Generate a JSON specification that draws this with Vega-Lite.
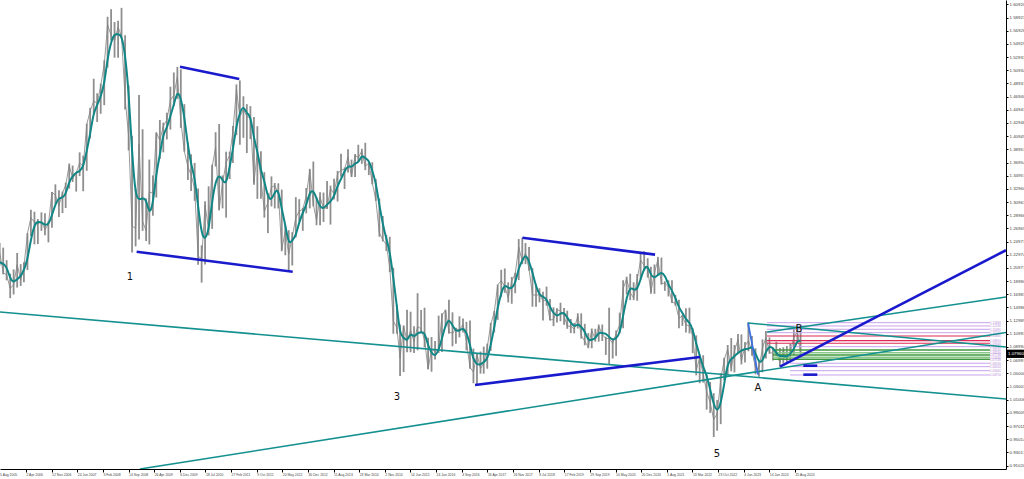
{
"$schema": "https://vega.github.io/schema/vega-lite/v6.json",
"width": 1006, "height": 469, "padding": 0,
"background": "white",
"config": {"view": {"stroke": null},
"axis": {"labelOverlap": false, "labelFlush": false, "labelBound": false, "grid": false, "title": null, "domainColor": "#000", "tickColor": "#000", "labelColor": "#444", "labelFont": "Liberation Sans"},
"axisX": {"labelAlign": "left", "labelBaseline": "top", "labelFontSize": 3.4, "labelPadding": 0, "tickSize": 3},
"axisY": {"labelFontSize": 4.4, "labelPadding": 1, "tickSize": 2}},
"datasets": {
"px": [
{"d":"2005-08-15","h":1.2475,"l":1.2135,"c":1.2335,"m":1.2185},
{"d":"2005-09-15","h":1.2405,"l":1.2000,"c":1.2025,"m":1.2162},
{"d":"2005-10-15","h":1.2215,"l":1.1910,"c":1.1990,"m":1.2117},
{"d":"2005-11-15","h":1.2010,"l":1.1640,"c":1.1790,"m":1.1935},
{"d":"2005-12-15","h":1.2075,"l":1.1695,"c":1.1840,"m":1.1873},
{"d":"2006-01-15","h":1.2325,"l":1.1800,"c":1.2150,"m":1.1927},
{"d":"2006-02-15","h":1.2155,"l":1.1825,"c":1.1920,"m":1.1970},
{"d":"2006-03-15","h":1.2185,"l":1.1880,"c":1.2115,"m":1.2062},
{"d":"2006-04-15","h":1.2625,"l":1.2065,"c":1.2620,"m":1.2218},
{"d":"2006-05-15","h":1.2980,"l":1.2580,"c":1.2860,"m":1.2532},
{"d":"2006-06-15","h":1.2950,"l":1.2455,"c":1.2790,"m":1.2757},
{"d":"2006-07-15","h":1.2840,"l":1.2460,"c":1.2765,"m":1.2805},
{"d":"2006-08-15","h":1.2940,"l":1.2660,"c":1.2805,"m":1.2787},
{"d":"2006-09-15","h":1.2925,"l":1.2595,"c":1.2680,"m":1.2750},
{"d":"2006-10-15","h":1.2810,"l":1.2485,"c":1.2760,"m":1.2748},
{"d":"2006-11-15","h":1.3250,"l":1.2705,"c":1.3245,"m":1.2895},
{"d":"2006-12-15","h":1.3365,"l":1.3070,"c":1.3200,"m":1.3068},
{"d":"2007-01-15","h":1.3275,"l":1.2870,"c":1.3040,"m":1.3162},
{"d":"2007-02-15","h":1.3255,"l":1.2930,"c":1.3235,"m":1.3158},
{"d":"2007-03-15","h":1.3390,"l":1.3005,"c":1.3355,"m":1.3210},
{"d":"2007-04-15","h":1.3680,"l":1.3300,"c":1.3650,"m":1.3413},
{"d":"2007-05-15","h":1.3650,"l":1.3400,"c":1.3455,"m":1.3487},
{"d":"2007-06-15","h":1.3535,"l":1.3255,"c":1.3540,"m":1.3548},
{"d":"2007-07-15","h":1.3850,"l":1.3490,"c":1.3690,"m":1.3562},
{"d":"2007-08-15","h":1.3800,"l":1.3260,"c":1.3640,"m":1.3623},
{"d":"2007-09-15","h":1.4285,"l":1.3570,"c":1.4270,"m":1.3867},
{"d":"2007-10-15","h":1.4525,"l":1.4060,"c":1.4480,"m":1.4130},
{"d":"2007-11-15","h":1.4965,"l":1.4430,"c":1.4630,"m":1.4460},
{"d":"2007-12-15","h":1.4745,"l":1.4310,"c":1.4590,"m":1.4567},
{"d":"2008-01-15","h":1.4890,"l":1.4435,"c":1.4860,"m":1.4693},
{"d":"2008-02-15","h":1.5245,"l":1.4565,"c":1.5185,"m":1.4878},
{"d":"2008-03-15","h":1.5905,"l":1.5135,"c":1.5785,"m":1.5277},
{"d":"2008-04-15","h":1.6020,"l":1.5545,"c":1.5620,"m":1.5530},
{"d":"2008-05-15","h":1.5825,"l":1.5285,"c":1.5545,"m":1.5650},
{"d":"2008-06-15","h":1.5845,"l":1.5285,"c":1.5750,"m":1.5638},
{"d":"2008-07-15","h":1.6040,"l":1.5585,"c":1.5605,"m":1.5633},
{"d":"2008-08-15","h":1.5625,"l":1.4500,"c":1.4680,"m":1.5345},
{"d":"2008-09-15","h":1.4865,"l":1.3880,"c":1.4090,"m":1.4792},
{"d":"2008-10-15","h":1.4100,"l":1.2330,"c":1.2735,"m":1.3835},
{"d":"2008-11-15","h":1.3300,"l":1.2425,"c":1.2695,"m":1.3173},
{"d":"2008-12-15","h":1.4720,"l":1.2530,"c":1.3970,"m":1.3133},
{"d":"2009-01-15","h":1.4200,"l":1.2660,"c":1.2800,"m":1.3155},
{"d":"2009-02-15","h":1.3150,"l":1.2505,"c":1.2665,"m":1.3145},
{"d":"2009-03-15","h":1.3740,"l":1.2455,"c":1.3250,"m":1.2905},
{"d":"2009-04-15","h":1.3500,"l":1.2890,"c":1.3230,"m":1.3048},
{"d":"2009-05-15","h":1.4150,"l":1.3165,"c":1.4150,"m":1.3543},
{"d":"2009-06-15","h":1.4340,"l":1.3750,"c":1.4030,"m":1.3803},
{"d":"2009-07-15","h":1.4300,"l":1.3850,"c":1.4250,"m":1.4143},
{"d":"2009-08-15","h":1.4450,"l":1.4045,"c":1.4340,"m":1.4207},
{"d":"2009-09-15","h":1.4845,"l":1.4195,"c":1.4640,"m":1.4410},
{"d":"2009-10-15","h":1.5060,"l":1.4550,"c":1.4715,"m":1.4565},
{"d":"2009-11-15","h":1.5145,"l":1.4660,"c":1.5000,"m":1.4785},
{"d":"2009-12-15","h":1.5110,"l":1.4220,"c":1.4330,"m":1.4682},
{"d":"2010-01-15","h":1.4580,"l":1.3860,"c":1.3865,"m":1.4398},
{"d":"2010-02-15","h":1.4000,"l":1.3430,"c":1.3630,"m":1.3942},
{"d":"2010-03-15","h":1.3820,"l":1.3265,"c":1.3510,"m":1.3668},
{"d":"2010-04-15","h":1.3690,"l":1.3115,"c":1.3300,"m":1.3480},
{"d":"2010-05-15","h":1.3300,"l":1.2145,"c":1.2280,"m":1.3030},
{"d":"2010-06-15","h":1.2440,"l":1.1875,"c":1.2235,"m":1.2605},
{"d":"2010-07-15","h":1.3110,"l":1.2150,"c":1.3050,"m":1.2522},
{"d":"2010-08-15","h":1.3335,"l":1.2590,"c":1.2680,"m":1.2655},
{"d":"2010-09-15","h":1.3665,"l":1.2690,"c":1.3630,"m":1.3120},
{"d":"2010-10-15","h":1.4155,"l":1.3635,"c":1.3925,"m":1.3412},
{"d":"2010-11-15","h":1.4280,"l":1.2970,"c":1.2985,"m":1.3513},
{"d":"2010-12-15","h":1.3500,"l":1.3000,"c":1.3380,"m":1.3430},
{"d":"2011-01-15","h":1.3860,"l":1.2860,"c":1.3695,"m":1.3353},
{"d":"2011-02-15","h":1.3860,"l":1.3445,"c":1.3805,"m":1.3627},
{"d":"2011-03-15","h":1.4250,"l":1.3690,"c":1.4165,"m":1.3888},
{"d":"2011-04-15","h":1.4880,"l":1.4110,"c":1.4805,"m":1.4258},
{"d":"2011-05-15","h":1.4940,"l":1.3965,"c":1.4390,"m":1.4453},
{"d":"2011-06-15","h":1.4700,"l":1.4070,"c":1.4500,"m":1.4565},
{"d":"2011-07-15","h":1.4580,"l":1.3840,"c":1.4395,"m":1.4428},
{"d":"2011-08-15","h":1.4550,"l":1.4050,"c":1.4370,"m":1.4422},
{"d":"2011-09-15","h":1.4385,"l":1.3360,"c":1.3390,"m":1.4052},
{"d":"2011-10-15","h":1.4245,"l":1.3145,"c":1.3865,"m":1.3875},
{"d":"2011-11-15","h":1.3865,"l":1.3145,"c":1.3445,"m":1.3567},
{"d":"2011-12-15","h":1.3550,"l":1.2860,"c":1.2960,"m":1.3423},
{"d":"2012-01-15","h":1.3235,"l":1.2625,"c":1.3085,"m":1.3163},
{"d":"2012-02-15","h":1.3485,"l":1.3030,"c":1.3320,"m":1.3122},
{"d":"2012-03-15","h":1.3385,"l":1.3000,"c":1.3345,"m":1.3250},
{"d":"2012-04-15","h":1.3380,"l":1.3000,"c":1.3235,"m":1.3300},
{"d":"2012-05-15","h":1.3285,"l":1.2350,"c":1.2370,"m":1.2983},
{"d":"2012-06-15","h":1.2745,"l":1.2290,"c":1.2665,"m":1.2757},
{"d":"2012-07-15","h":1.2670,"l":1.2040,"c":1.2305,"m":1.2447},
{"d":"2012-08-15","h":1.2640,"l":1.2135,"c":1.2575,"m":1.2515},
{"d":"2012-09-15","h":1.3170,"l":1.2560,"c":1.2860,"m":1.2580},
{"d":"2012-10-15","h":1.3140,"l":1.2800,"c":1.2960,"m":1.2798},
{"d":"2012-11-15","h":1.3010,"l":1.2660,"c":1.2985,"m":1.2935},
{"d":"2012-12-15","h":1.3310,"l":1.2925,"c":1.3190,"m":1.3045},
{"d":"2013-01-15","h":1.3600,"l":1.3000,"c":1.3580,"m":1.3252},
{"d":"2013-02-15","h":1.3710,"l":1.3030,"c":1.3060,"m":1.3277},
{"d":"2013-03-15","h":1.3160,"l":1.2745,"c":1.2820,"m":1.3153},
{"d":"2013-04-15","h":1.3245,"l":1.2745,"c":1.3170,"m":1.3017},
{"d":"2013-05-15","h":1.3240,"l":1.2795,"c":1.3000,"m":1.2997},
{"d":"2013-06-15","h":1.3415,"l":1.2990,"c":1.3010,"m":1.3060},
{"d":"2013-07-15","h":1.3345,"l":1.2755,"c":1.3300,"m":1.3103},
{"d":"2013-08-15","h":1.3450,"l":1.3135,"c":1.3220,"m":1.3177},
{"d":"2013-09-15","h":1.3570,"l":1.3105,"c":1.3525,"m":1.3348},
{"d":"2013-10-15","h":1.3830,"l":1.3480,"c":1.3580,"m":1.3442},
{"d":"2013-11-15","h":1.3620,"l":1.3295,"c":1.3590,"m":1.3565},
{"d":"2013-12-15","h":1.3895,"l":1.3545,"c":1.3780,"m":1.3650},
{"d":"2014-01-15","h":1.3740,"l":1.3475,"c":1.3485,"m":1.3618},
{"d":"2014-02-15","h":1.3825,"l":1.3475,"c":1.3805,"m":1.3690},
{"d":"2014-03-15","h":1.3965,"l":1.3705,"c":1.3770,"m":1.3687},
{"d":"2014-04-15","h":1.3905,"l":1.3675,"c":1.3870,"m":1.3815},
{"d":"2014-05-15","h":1.3995,"l":1.3580,"c":1.3635,"m":1.3758},
{"d":"2014-06-15","h":1.3700,"l":1.3505,"c":1.3690,"m":1.3732},
{"d":"2014-07-15","h":1.3700,"l":1.3365,"c":1.3390,"m":1.3572},
{"d":"2014-08-15","h":1.3445,"l":1.3115,"c":1.3130,"m":1.3403},
{"d":"2014-09-15","h":1.3150,"l":1.2570,"c":1.2630,"m":1.3050},
{"d":"2014-10-15","h":1.2885,"l":1.2500,"c":1.2525,"m":1.2762},
{"d":"2014-11-15","h":1.2600,"l":1.2355,"c":1.2450,"m":1.2535},
{"d":"2014-12-15","h":1.2570,"l":1.2035,"c":1.2100,"m":1.2358},
{"d":"2015-01-15","h":1.2100,"l":1.1100,"c":1.1290,"m":1.1947},
{"d":"2015-02-15","h":1.1535,"l":1.1100,"c":1.1195,"m":1.1528},
{"d":"2015-03-15","h":1.1240,"l":1.0460,"c":1.0730,"m":1.1072},
{"d":"2015-04-15","h":1.1225,"l":1.0520,"c":1.1220,"m":1.1048},
{"d":"2015-05-15","h":1.1465,"l":1.0820,"c":1.0985,"m":1.0978},
{"d":"2015-06-15","h":1.1435,"l":1.0820,"c":1.1150,"m":1.1118},
{"d":"2015-07-15","h":1.1215,"l":1.0810,"c":1.0985,"m":1.1040},
{"d":"2015-08-15","h":1.1715,"l":1.0850,"c":1.1210,"m":1.1115},
{"d":"2015-09-15","h":1.1460,"l":1.1105,"c":1.1175,"m":1.1123},
{"d":"2015-10-15","h":1.1495,"l":1.0895,"c":1.1005,"m":1.1130},
{"d":"2015-11-15","h":1.1040,"l":1.0560,"c":1.0565,"m":1.0915},
{"d":"2015-12-15","h":1.1050,"l":1.0525,"c":1.0860,"m":1.0810},
{"d":"2016-01-15","h":1.0990,"l":1.0710,"c":1.0830,"m":1.0752},
{"d":"2016-02-15","h":1.1375,"l":1.0810,"c":1.0870,"m":1.0853},
{"d":"2016-03-15","h":1.1410,"l":1.0825,"c":1.1380,"m":1.1027},
{"d":"2016-04-15","h":1.1465,"l":1.1215,"c":1.1455,"m":1.1235},
{"d":"2016-05-15","h":1.1615,"l":1.1100,"c":1.1130,"m":1.1322},
{"d":"2016-06-15","h":1.1425,"l":1.0910,"c":1.1105,"m":1.1230},
{"d":"2016-07-15","h":1.1190,"l":1.0950,"c":1.1175,"m":1.1137},
{"d":"2016-08-15","h":1.1365,"l":1.1045,"c":1.1160,"m":1.1147},
{"d":"2016-09-15","h":1.1330,"l":1.1120,"c":1.1240,"m":1.1192},
{"d":"2016-10-15","h":1.1280,"l":1.0850,"c":1.0980,"m":1.1127},
{"d":"2016-11-15","h":1.1300,"l":1.0570,"c":1.0590,"m":1.0937},
{"d":"2016-12-15","h":1.0875,"l":1.0350,"c":1.0520,"m":1.0697},
{"d":"2017-01-15","h":1.0800,"l":1.0340,"c":1.0795,"m":1.0635},
{"d":"2017-02-15","h":1.0830,"l":1.0495,"c":1.0575,"m":1.0630},
{"d":"2017-03-15","h":1.0905,"l":1.0495,"c":1.0650,"m":1.0673},
{"d":"2017-04-15","h":1.0950,"l":1.0570,"c":1.0895,"m":1.0707},
{"d":"2017-05-15","h":1.1265,"l":1.0840,"c":1.1240,"m":1.0928},
{"d":"2017-06-15","h":1.1445,"l":1.1120,"c":1.1425,"m":1.1187},
{"d":"2017-07-15","h":1.1845,"l":1.1310,"c":1.1840,"m":1.1502},
{"d":"2017-08-15","h":1.2070,"l":1.1660,"c":1.1905,"m":1.1723},
{"d":"2017-09-15","h":1.2090,"l":1.1720,"c":1.1815,"m":1.1853},
{"d":"2017-10-15","h":1.1880,"l":1.1575,"c":1.1645,"m":1.1788},
{"d":"2017-11-15","h":1.1960,"l":1.1555,"c":1.1905,"m":1.1788},
{"d":"2017-12-15","h":1.2025,"l":1.1715,"c":1.2005,"m":1.1852},
{"d":"2018-01-15","h":1.2535,"l":1.1915,"c":1.2415,"m":1.2108},
{"d":"2018-02-15","h":1.2555,"l":1.2155,"c":1.2195,"m":1.2205},
{"d":"2018-03-15","h":1.2475,"l":1.2155,"c":1.2325,"m":1.2312},
{"d":"2018-04-15","h":1.2415,"l":1.2055,"c":1.2080,"m":1.2200},
{"d":"2018-05-15","h":1.2095,"l":1.1510,"c":1.1690,"m":1.2032},
{"d":"2018-06-15","h":1.1850,"l":1.1510,"c":1.1685,"m":1.1818},
{"d":"2018-07-15","h":1.1790,"l":1.1575,"c":1.1690,"m":1.1688},
{"d":"2018-08-15","h":1.1735,"l":1.1300,"c":1.1600,"m":1.1658},
{"d":"2018-09-15","h":1.1815,"l":1.1525,"c":1.1605,"m":1.1632},
{"d":"2018-10-15","h":1.1625,"l":1.1300,"c":1.1310,"m":1.1505},
{"d":"2018-11-15","h":1.1500,"l":1.1215,"c":1.1315,"m":1.1410},
{"d":"2018-12-15","h":1.1485,"l":1.1270,"c":1.1465,"m":1.1363},
{"d":"2019-01-15","h":1.1570,"l":1.1290,"c":1.1445,"m":1.1408},
{"d":"2019-02-15","h":1.1490,"l":1.1235,"c":1.1370,"m":1.1427},
{"d":"2019-03-15","h":1.1450,"l":1.1175,"c":1.1215,"m":1.1343},
{"d":"2019-04-15","h":1.1325,"l":1.1110,"c":1.1215,"m":1.1267},
{"d":"2019-05-15","h":1.1265,"l":1.1105,"c":1.1170,"m":1.1200},
{"d":"2019-06-15","h":1.1410,"l":1.1180,"c":1.1370,"m":1.1252},
{"d":"2019-07-15","h":1.1410,"l":1.1025,"c":1.1075,"m":1.1205},
{"d":"2019-08-15","h":1.1250,"l":1.0925,"c":1.0985,"m":1.1143},
{"d":"2019-09-15","h":1.1110,"l":1.0880,"c":1.0900,"m":1.0987},
{"d":"2019-10-15","h":1.1180,"l":1.0880,"c":1.1150,"m":1.1012},
{"d":"2019-11-15","h":1.1175,"l":1.0980,"c":1.1015,"m":1.1022},
{"d":"2019-12-15","h":1.1240,"l":1.0980,"c":1.1215,"m":1.1127},
{"d":"2020-01-15","h":1.1240,"l":1.0990,"c":1.1090,"m":1.1107},
{"d":"2020-02-15","h":1.1055,"l":1.0780,"c":1.1025,"m":1.1110},
{"d":"2020-03-15","h":1.1495,"l":1.0635,"c":1.1030,"m":1.1048},
{"d":"2020-04-15","h":1.1030,"l":1.0725,"c":1.0955,"m":1.1003},
{"d":"2020-05-15","h":1.1150,"l":1.0765,"c":1.1100,"m":1.1028},
{"d":"2020-06-15","h":1.1420,"l":1.1105,"c":1.1235,"m":1.1097},
{"d":"2020-07-15","h":1.1910,"l":1.1185,"c":1.1780,"m":1.1372},
{"d":"2020-08-15","h":1.1965,"l":1.1695,"c":1.1935,"m":1.1650},
{"d":"2020-09-15","h":1.2010,"l":1.1610,"c":1.1720,"m":1.1812},
{"d":"2020-10-15","h":1.1880,"l":1.1610,"c":1.1645,"m":1.1767},
{"d":"2020-11-15","h":1.2005,"l":1.1600,"c":1.1925,"m":1.1763},
{"d":"2020-12-15","h":1.2310,"l":1.1925,"c":1.2215,"m":1.1928},
{"d":"2021-01-15","h":1.2350,"l":1.2055,"c":1.2135,"m":1.2092},
{"d":"2021-02-15","h":1.2245,"l":1.1950,"c":1.2075,"m":1.2142},
{"d":"2021-03-15","h":1.2115,"l":1.1705,"c":1.1730,"m":1.1980},
{"d":"2021-04-15","h":1.2150,"l":1.1705,"c":1.2020,"m":1.1942},
{"d":"2021-05-15","h":1.2265,"l":1.1985,"c":1.2225,"m":1.1992},
{"d":"2021-06-15","h":1.2255,"l":1.1845,"c":1.1860,"m":1.2035},
{"d":"2021-07-15","h":1.1895,"l":1.1750,"c":1.1870,"m":1.1985},
{"d":"2021-08-15","h":1.1910,"l":1.1665,"c":1.1805,"m":1.1845},
{"d":"2021-09-15","h":1.1910,"l":1.1565,"c":1.1580,"m":1.1752},
{"d":"2021-10-15","h":1.1690,"l":1.1525,"c":1.1560,"m":1.1648},
{"d":"2021-11-15","h":1.1615,"l":1.1185,"c":1.1335,"m":1.1492},
{"d":"2021-12-15","h":1.1385,"l":1.1220,"c":1.1370,"m":1.1422},
{"d":"2022-01-15","h":1.1485,"l":1.1120,"c":1.1235,"m":1.1313},
{"d":"2022-02-15","h":1.1495,"l":1.1105,"c":1.1220,"m":1.1275},
{"d":"2022-03-15","h":1.1185,"l":1.0805,"c":1.1065,"m":1.1173},
{"d":"2022-04-15","h":1.1075,"l":1.0470,"c":1.0545,"m":1.0943},
{"d":"2022-05-15","h":1.0785,"l":1.0350,"c":1.0730,"m":1.0780},
{"d":"2022-06-15","h":1.0775,"l":1.0360,"c":1.0485,"m":1.0587},
{"d":"2022-07-15","h":1.0485,"l":0.9950,"c":1.0225,"m":1.0480},
{"d":"2022-08-15","h":1.0370,"l":0.9900,"c":1.0055,"m":1.0255},
{"d":"2022-09-15","h":1.0200,"l":0.9535,"c":0.9800,"m":1.0027},
{"d":"2022-10-15","h":1.0095,"l":0.9630,"c":0.9885,"m":0.9913},
{"d":"2022-11-15","h":1.0500,"l":0.9730,"c":1.0405,"m":1.0030},
{"d":"2022-12-15","h":1.0735,"l":1.0395,"c":1.0705,"m":1.0332},
{"d":"2023-01-15","h":1.0930,"l":1.0480,"c":1.0865,"m":1.0658},
{"d":"2023-02-15","h":1.1035,"l":1.0530,"c":1.0575,"m":1.0715},
{"d":"2023-03-15","h":1.0930,"l":1.0515,"c":1.0840,"m":1.0760},
{"d":"2023-04-15","h":1.1095,"l":1.0790,"c":1.1015,"m":1.0810},
{"d":"2023-05-15","h":1.1090,"l":1.0635,"c":1.0690,"m":1.0848},
{"d":"2023-06-15","h":1.0975,"l":1.0665,"c":1.0910,"m":1.0872},
{"d":"2023-07-15","h":1.1275,"l":1.0835,"c":1.0995,"m":1.0865},
{"d":"2023-08-15","h":1.1065,"l":1.0765,"c":1.0845,"m":1.0917},
{"d":"2023-09-15","h":1.0880,"l":1.0485,"c":1.0575,"m":1.0805},
{"d":"2023-10-15","h":1.0695,"l":1.0450,"c":1.0575,"m":1.0665},
{"d":"2023-11-15","h":1.1015,"l":1.0515,"c":1.0885,"m":1.0678},
{"d":"2023-12-15","h":1.1140,"l":1.0725,"c":1.1040,"m":1.0833},
{"d":"2024-01-15","h":1.1045,"l":1.0795,"c":1.0815,"m":1.0913},
{"d":"2024-02-15","h":1.0890,"l":1.0695,"c":1.0805,"m":1.0887},
{"d":"2024-03-15","h":1.0980,"l":1.0765,"c":1.0790,"m":1.0803},
{"d":"2024-04-15","h":1.0885,"l":1.0600,"c":1.0665,"m":1.0753},
{"d":"2024-05-15","h":1.0895,"l":1.0650,"c":1.0850,"m":1.0768},
{"d":"2024-06-15","h":1.0915,"l":1.0670,"c":1.0715,"m":1.0743},
{"d":"2024-07-15","h":1.0950,"l":1.0710,"c":1.0825,"m":1.0797},
{"d":"2024-08-15","h":1.1200,"l":1.0775,"c":1.1045,"m":1.0862},
{"d":"2024-09-15","h":1.1215,"l":1.1000,"c":1.1135,"m":1.1002},
{"d":"2024-10-13","h":1.1145,"l":1.0760,"c":1.0795,"m":1.0992}
],
"lines": [
{"d1":"2009-12-08","p1":1.5148,"d2":"2011-05-10","p2":1.4961,"k":"wave"},
{"d1":"2008-11-24","p1":1.2344,"d2":"2012-08-19","p2":1.2041,"k":"wave"},
{"d1":"2018-02-16","p1":1.2555,"d2":"2021-04-20","p2":1.2300,"k":"wave"},
{"d1":"2016-12-29","p1":1.0324,"d2":"2022-05-18","p2":1.0748,"k":"wave"},
{"d1":"2024-04-16","p1":1.0601,"d2":"2029-09-12","p2":1.2366,"k":"wave"},
{"d1":"2024-11-06","p1":1.0616,"d2":"2025-03-08","p2":1.0616,"k":"wave"},
{"d1":"2024-11-06","p1":1.0480,"d2":"2025-03-08","p2":1.0480,"k":"wave"},
{"d1":"2005-08-18","p1":1.1430,"d2":"2029-09-12","p2":1.0111,"k":"trend"},
{"d1":"2008-12-23","p1":0.9050,"d2":"2029-09-12","p2":1.1119,"k":"trend"},
{"d1":"2023-07-10","p1":1.1263,"d2":"2029-09-12","p2":1.0899,"k":"trend"},
{"d1":"2023-12-25","p1":1.1127,"d2":"2029-09-12","p2":1.1657,"k":"trend"},
{"d1":"2023-07-12","p1":1.1262,"d2":"2023-10-07","p2":1.0480,"k":"leg"}
],
"lv": [
{"d1":"2023-12-25","d2":"2029-04-25","p":1.1268,"g":"fib"},
{"d1":"2023-12-25","d2":"2029-04-25","p":1.1218,"g":"fib"},
{"d1":"2023-12-25","d2":"2029-04-25","p":1.1168,"g":"fib"},
{"d1":"2023-12-25","d2":"2029-04-25","p":1.1116,"g":"fib"},
{"d1":"2024-07-13","d2":"2029-04-25","p":1.0904,"g":"fib"},
{"d1":"2024-07-13","d2":"2029-04-25","p":1.0653,"g":"fib"},
{"d1":"2024-07-13","d2":"2029-04-25","p":1.0601,"g":"fib"},
{"d1":"2024-07-13","d2":"2029-04-25","p":1.0540,"g":"fib"},
{"d1":"2024-07-13","d2":"2029-04-25","p":1.0475,"g":"fib"},
{"d1":"2023-12-25","d2":"2029-04-25","p":1.1066,"g":"res"},
{"d1":"2023-12-25","d2":"2029-04-25","p":1.0995,"g":"res"},
{"d1":"2023-12-25","d2":"2029-04-25","p":1.0956,"g":"res"},
{"d1":"2024-02-15","d2":"2029-04-25","p":1.0854,"g":"sup"},
{"d1":"2024-02-15","d2":"2029-04-25","p":1.0813,"g":"sup2"},
{"d1":"2024-02-15","d2":"2029-04-25","p":1.0778,"g":"sup"},
{"d1":"2024-02-15","d2":"2029-04-25","p":1.0743,"g":"sup2"},
{"d1":"2024-02-15","d2":"2029-04-25","p":1.0713,"g":"sup"}
],
"tx": [
{"d":"2008-09-27","p":1.1960,"t":"1"},
{"d":"2015-02-16","p":1.0142,"t":"3"},
{"d":"2022-10-14","p":0.9278,"t":"5"},
{"d":"2023-10-07","p":1.0278,"t":"A"},
{"d":"2024-09-29","p":1.1171,"t":"B"}
],
"cur": [{"d1":"2029-09-12","d2":"2030-02-16","lo":1.0733,"hi":1.0859,"p":1.0796}],
"ax0": [{"d":"2005-08-18","p":0.8995,"t":"5 Aug 2005"}]
},
"layer": [
{
"data": {"name": "px"},
"mark": {"type": "rule", "clip": true, "color": "#8e8e8e", "strokeWidth": 1.8},
"encoding": {
"x": {"field": "d", "type": "temporal", "title": null,
"scale": {"type": "utc", "domain": [{"year":2005,"month":8,"date":18,"utc":true},{"year":2029,"month":9,"date":12,"utc":true}], "nice": false},
"axis": {"orient": "bottom", "tickCount": 200,
"values": [
{"year":2006,"month":4,"date":2,"utc":true},{"year":2006,"month":11,"date":12,"utc":true},{"year":2007,"month":6,"date":24,"utc":true},{"year":2008,"month":2,"date":3,"utc":true},{"year":2008,"month":9,"date":14,"utc":true},{"year":2009,"month":4,"date":26,"utc":true},{"year":2009,"month":12,"date":6,"utc":true},{"year":2010,"month":7,"date":18,"utc":true},{"year":2011,"month":2,"date":27,"utc":true},{"year":2011,"month":10,"date":9,"utc":true},{"year":2012,"month":5,"date":20,"utc":true},{"year":2012,"month":12,"date":30,"utc":true},{"year":2013,"month":8,"date":11,"utc":true},{"year":2014,"month":3,"date":23,"utc":true},{"year":2014,"month":11,"date":2,"utc":true},{"year":2015,"month":6,"date":14,"utc":true},{"year":2016,"month":1,"date":24,"utc":true},{"year":2016,"month":9,"date":4,"utc":true},{"year":2017,"month":4,"date":16,"utc":true},{"year":2017,"month":11,"date":26,"utc":true},{"year":2018,"month":7,"date":8,"utc":true},{"year":2019,"month":2,"date":17,"utc":true},{"year":2019,"month":9,"date":29,"utc":true},{"year":2020,"month":5,"date":10,"utc":true},{"year":2020,"month":12,"date":20,"utc":true},{"year":2021,"month":8,"date":1,"utc":true},{"year":2022,"month":3,"date":13,"utc":true},{"year":2022,"month":10,"date":23,"utc":true},{"year":2023,"month":6,"date":4,"utc":true},{"year":2024,"month":1,"date":14,"utc":true},{"year":2024,"month":8,"date":25,"utc":true}],
"labelExpr": "utcFormat(datum.value, '%-d %b %Y')", "labelOverlap": false}},
"y": {"field": "l", "type": "quantitative", "title": null,
"scale": {"domain": [0.905, 1.6159], "zero": false, "nice": false},
"axis": {"orient": "right", "tickCount": 200,
"values": [0.9102,0.93017,0.95014,0.97011,0.99009,1.01006,1.03003,1.05,1.06997,1.08994,1.10991,1.12989,1.14986,1.16983,1.1898,1.20977,1.22974,1.24971,1.26969,1.28966,1.30963,1.3296,1.34957,1.36954,1.38951,1.40949,1.42946,1.44943,1.4694,1.48937,1.50934,1.52931,1.54929,1.56926,1.58923,1.6092],
"format": ".5f", "labelOverlap": false}},
"y2": {"field": "h"}
}
},
{
"data": {"name": "px"},
"mark": {"type": "line", "clip": true, "color": "#808080", "strokeWidth": 0.8},
"encoding": {
"x": {"field": "d", "type": "temporal", "title": null},
"y": {"field": "c", "type": "quantitative", "title": null}
}
},
{
"data": {"name": "lv"},
"transform": [{"filter": "datum.g == 'fib'"}],
"mark": {"type": "rule", "clip": true, "color": "#c9a2ec", "strokeWidth": 1},
"encoding": {
"x": {"field": "d1", "type": "temporal", "title": null},
"x2": {"field": "d2"},
"y": {"field": "p", "type": "quantitative", "title": null}
}
},
{
"data": {"name": "lv"},
"transform": [{"filter": "datum.g == 'res'"}],
"mark": {"type": "rule", "clip": true, "color": "#de2a55", "strokeWidth": 1.2},
"encoding": {
"x": {"field": "d1", "type": "temporal", "title": null},
"x2": {"field": "d2"},
"y": {"field": "p", "type": "quantitative", "title": null}
}
},
{
"data": {"name": "lv"},
"transform": [{"filter": "datum.g == 'sup'"}],
"mark": {"type": "rule", "clip": true, "color": "#3f9a3f", "strokeWidth": 1.4},
"encoding": {
"x": {"field": "d1", "type": "temporal", "title": null},
"x2": {"field": "d2"},
"y": {"field": "p", "type": "quantitative", "title": null}
}
},
{
"data": {"name": "lv"},
"transform": [{"filter": "datum.g == 'sup2'"}],
"mark": {"type": "rule", "clip": true, "color": "#8cc88c", "strokeWidth": 1.4},
"encoding": {
"x": {"field": "d1", "type": "temporal", "title": null},
"x2": {"field": "d2"},
"y": {"field": "p", "type": "quantitative", "title": null}
}
},
{
"data": {"name": "lv"},
"mark": {"type": "text", "clip": false, "color": "#b48ad8", "fontSize": 3, "align": "left", "baseline": "middle", "font": "Liberation Sans"},
"encoding": {
"x": {"field": "d2", "type": "temporal", "title": null},
"y": {"field": "p", "type": "quantitative", "title": null},
"text": {"field": "p", "type": "quantitative", "format": ".5f"}
}
},
{
"data": {"name": "px"},
"mark": {"type": "line", "clip": true, "color": "#108686", "strokeWidth": 2, "interpolate": "basis"},
"encoding": {
"x": {"field": "d", "type": "temporal", "title": null},
"y": {"field": "m", "type": "quantitative", "title": null}
}
},
{
"data": {"name": "lines"},
"transform": [{"filter": "datum.k == 'trend'"}],
"mark": {"type": "rule", "clip": true, "color": "#149090", "strokeWidth": 1.6},
"encoding": {
"x": {"field": "d1", "type": "temporal", "title": null},
"x2": {"field": "d2"},
"y": {"field": "p1", "type": "quantitative", "title": null},
"y2": {"field": "p2"}
}
},
{
"data": {"name": "lines"},
"transform": [{"filter": "datum.k == 'leg'"}],
"mark": {"type": "rule", "clip": true, "color": "#3b6fe0", "strokeWidth": 1.8},
"encoding": {
"x": {"field": "d1", "type": "temporal", "title": null},
"x2": {"field": "d2"},
"y": {"field": "p1", "type": "quantitative", "title": null},
"y2": {"field": "p2"}
}
},
{
"data": {"name": "lines"},
"transform": [{"filter": "datum.k == 'wave'"}],
"mark": {"type": "rule", "clip": true, "color": "#1a1acd", "strokeWidth": 2.6},
"encoding": {
"x": {"field": "d1", "type": "temporal", "title": null},
"x2": {"field": "d2"},
"y": {"field": "p1", "type": "quantitative", "title": null},
"y2": {"field": "p2"}
}
},
{
"data": {"name": "tx"},
"mark": {"type": "text", "clip": false, "color": "#111", "fontSize": 10, "font": "DejaVu Sans", "align": "center", "baseline": "middle"},
"encoding": {
"x": {"field": "d", "type": "temporal", "title": null},
"y": {"field": "p", "type": "quantitative", "title": null},
"text": {"field": "t"}
}
},
{
"data": {"name": "cur"},
"mark": {"type": "rect", "clip": false, "color": "#000"},
"encoding": {
"x": {"field": "d1", "type": "temporal", "title": null},
"x2": {"field": "d2"},
"y": {"field": "lo", "type": "quantitative", "title": null},
"y2": {"field": "hi"}
}
},
{
"data": {"name": "cur"},
"mark": {"type": "text", "clip": false, "color": "#fff", "fontSize": 4.4, "font": "Liberation Sans", "align": "left", "baseline": "middle", "dx": 2},
"encoding": {
"x": {"field": "d1", "type": "temporal", "title": null},
"y": {"field": "p", "type": "quantitative", "title": null},
"text": {"field": "p", "type": "quantitative", "format": ".5f"}
}
},
{
"data": {"name": "ax0"},
"mark": {"type": "text", "clip": false, "color": "#444", "fontSize": 3.4, "font": "Liberation Sans", "align": "left", "baseline": "top"},
"encoding": {
"x": {"field": "d", "type": "temporal", "title": null},
"y": {"field": "p", "type": "quantitative", "title": null},
"text": {"field": "t"}
}
}
]
}
